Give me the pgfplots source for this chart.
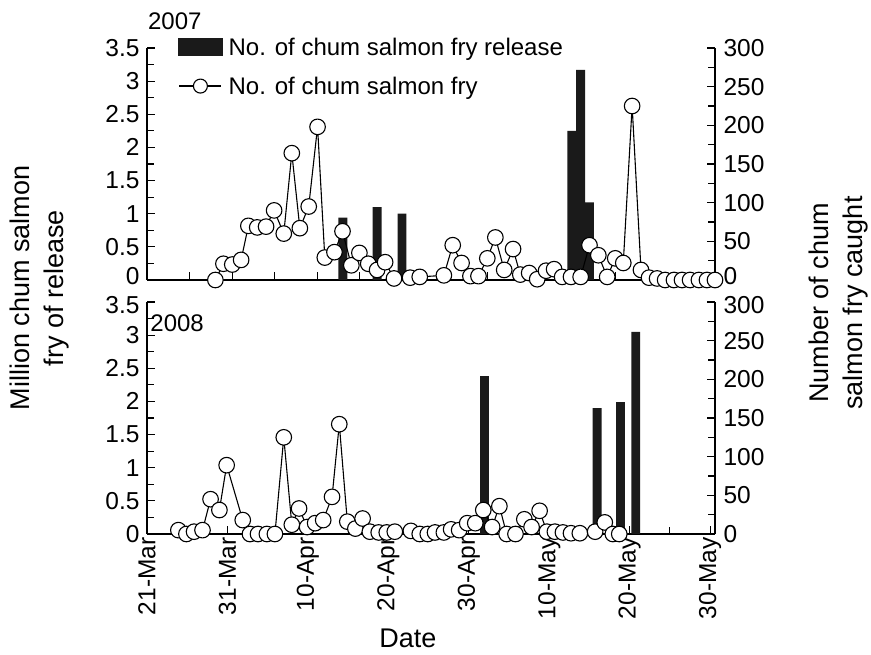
\documentclass[border=0pt]{standalone}
\usepackage{fontspec}
\setmainfont{Liberation Sans}
\usepackage{pgfplots}
\pgfplotsset{compat=1.18}
\definecolor{barblack}{HTML}{1A1A1A}
\newcommand{\tickfont}{\fontsize{24.5bp}{26bp}\selectfont}
\newcommand{\legfont}{\fontsize{24bp}{26bp}\selectfont}
\newcommand{\labfont}{\fontsize{27bp}{34bp}\selectfont}
\pgfplotsset{
  panel/.style={width=568bp, height=232bp, scale only axis, xmin=0, xmax=70.6,
    clip=false,
    /pgf/number format/assume math mode=true,
    tick label style={font=\tickfont},
    axis line style={line width=1.2bp},
    every tick/.style={line width=1.1bp, black},
    major tick length=8bp, minor tick length=7bp, tick align=inside},
  leftax/.style={panel, ymin=0, ymax=3.5,
    minor ytick={0.25,0.75,1.25,1.75,2.25,2.75,3.25},
    yticklabel style={xshift=-4bp, inner ysep=0pt},
    axis x line*=bottom, axis y line*=left},
  rightax/.style={panel, ymin=0, ymax=300,
    minor ytick={25,75,125,175,225,275},
    yticklabel style={xshift=5bp, inner ysep=0pt},
    axis y line*=right, axis x line=none},
  % top panel: its 0 label nudged up a little
  toppanel/.style={extra tick style={yticklabel style={yshift=3.5bp}}},
  % bottom panel: its top label nudged down a little
  botpanel/.style={extra tick style={yticklabel style={yshift=-3.5bp}}},
  fish/.style={black, line width=1.1bp, mark=*, mark size=7.8bp,
    mark options={fill=white, draw=black, line width=1.1bp}},
  bars/.style={ybar, bar width=1.1, fill=barblack, draw=none},
}
\begin{document}
\begin{tikzpicture}
\path[use as bounding box] (0,0) rectangle (871bp,655bp);
% ---------- 2007 ----------
\begin{axis}[leftax, toppanel, at={(147bp,375bp)}, anchor=south west,
  ytick={0.5,1,1.5,2,2.5,3,3.5}, extra y ticks={0},
  xtick={5.29,10.58,15.87,21.16,26.45,31.74,37.03,42.32,47.61,52.9,58.19,63.48,68.77},
  xticklabels={}]
\addplot[bars] coordinates {(24.35,0.94) (28.6,1.10) (31.7,1.00) (52.8,2.25) (53.9,3.17) (55.0,1.17)};
\node[font=\legfont] at (rel axis cs:0.049,1.116) {2007};
\end{axis}
\begin{axis}[rightax, toppanel, at={(147bp,375bp)}, anchor=south west,
  ytick={50,100,150,200,250,300}, extra y ticks={0},
  legend style={draw=none, fill=none, inner sep=0pt, font=\legfont,
    at={(rel axis cs:0.0546,1.045)}, anchor=north west, row sep=20bp,
    nodes={inner sep=0pt, anchor=west},
    /tikz/every odd column/.append style={column sep=6bp}},
  legend cell align=left]
\addlegendimage{legend image code/.code={\fill[barblack] (0bp,-8.5bp) rectangle (44bp,8.5bp);}}
\addlegendentry{No. of chum salmon fry release}
\addlegendimage{legend image code/.code={\draw[line width=1.2bp] (1bp,0bp) -- (43bp,0bp);
  \draw[line width=1.1bp, fill=white] (22bp,0bp) circle (7bp);}}
\addlegendentry{No. of chum salmon fry}
\addplot[fish, forget plot] coordinates {
(8.5,0) (9.5,21) (10.6,20) (11.7,26) (12.6,70) (13.7,68) (14.8,69) (15.8,90)
(17.0,60) (18.0,164) (19.0,67) (20.1,95) (21.2,198) (22.1,29) (23.3,36) (24.3,63)
(25.4,19) (26.4,35) (27.5,21) (28.6,13) (29.6,23) (30.7,2) (32.7,3) (33.9,4)
(36.9,6) (38.0,45) (39.1,22) (40.2,5) (41.2,5) (42.3,28) (43.3,55) (44.4,13)
(45.5,40) (46.4,7) (47.5,9) (48.5,1) (49.6,12) (50.6,14) (51.6,4) (52.7,4)
(53.9,4) (55.0,45) (56.1,32) (57.2,4) (58.2,28) (59.2,22) (60.3,225) (61.4,13)
(62.4,3) (63.4,2) (64.4,0) (65.5,0) (66.5,0) (67.5,0) (68.6,0) (69.6,0) (70.6,0)};
\end{axis}
% ---------- 2008 ----------
\begin{axis}[leftax, botpanel, at={(147bp,121bp)}, anchor=south west,
  ytick={0,0.5,1,1.5,2,2.5,3}, extra y ticks={3.5},
  xtick={0,10,20,30,40,50,60,70}, minor xtick={5,15,25,35,45,55,65},
  xticklabels={21-Mar,31-Mar,10-Apr,20-Apr,30-Apr,10-May,20-May,30-May},
  xticklabel style={rotate=90, anchor=east},
  xlabel={Date}, xlabel style={font=\labfont, at={(axis description cs:0.4595,0)}, anchor=north, yshift=-91bp}]
\addplot[bars] coordinates {(41.95,2.38) (55.95,1.90) (58.85,1.99) (60.75,3.05)};
\node[font=\legfont] at (rel axis cs:0.053,0.909) {2008};
\end{axis}
\begin{axis}[rightax, botpanel, at={(147bp,121bp)}, anchor=south west,
  ytick={0,50,100,150,200,250}, extra y ticks={300}]
\addplot[fish] coordinates {
(3.9,5) (4.9,0) (5.85,3) (6.9,5) (7.9,45) (9.0,31) (9.9,89) (11.9,18)
(12.8,0) (13.8,0) (14.9,0) (15.9,0) (17.0,125) (18.0,12) (18.9,33) (19.9,9)
(20.9,14) (21.9,18) (23.0,48) (23.9,142) (24.9,16) (25.9,7) (26.8,20) (27.7,3)
(28.8,2) (29.8,2) (30.8,3) (32.8,4) (33.9,0) (34.9,0) (35.8,2) (36.9,2)
(37.8,6) (38.8,5) (39.8,14) (40.8,14) (41.8,31) (42.9,9) (43.8,36) (44.7,0)
(45.8,0) (46.9,19) (47.8,9) (48.8,30) (49.7,3) (50.7,3) (51.7,2) (52.7,1)
(53.8,1) (55.7,3) (56.9,15) (57.9,0) (58.7,0)};
\end{axis}
% ---------- shared axis titles ----------
\node[rotate=90, align=center, font=\labfont] at (40bp,367bp) {Million chum salmon\\fry of release};
\node[rotate=90, align=center, font=\labfont] at (839bp,352bp) {Number of chum\\salmon fry caught};
\end{tikzpicture}
\end{document}
